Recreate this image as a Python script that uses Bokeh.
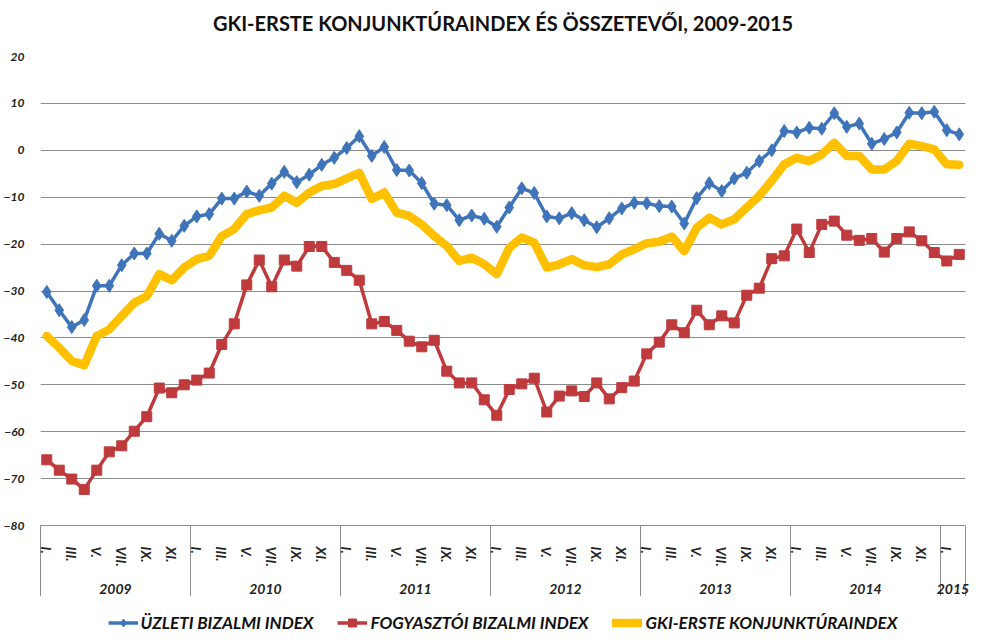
from bokeh.plotting import figure
from bokeh.layouts import column
from bokeh.models import Range1d, FixedTicker, LinearAxis, Legend, LegendItem, ColumnDataSource
from bokeh.core.properties import value
from bokeh.embed import file_html
from bokeh.resources import INLINE

years = ["2009", "2010", "2011", "2012", "2013", "2014", "2015"]
months_per_year = [12, 12, 12, 12, 12, 12, 2]
month_labels = ["I.", "II.", "III.", "IV.", "V.", "VI.", "VII.", "VIII.", "IX.", "X.", "XI.", "XII."]

uzleti = [-30.2, -34.1, -37.7, -36.2, -28.9, -28.9, -24.5, -22.0, -22.0, -17.8, -19.3, -16.1,
          -14.1, -13.6, -10.3, -10.3, -8.8, -9.7, -7.1, -4.6, -6.8, -5.2, -3.1, -1.6,
          0.5, 3.0, -1.2, 0.7, -4.2, -4.3, -7.0, -11.4, -11.7, -14.9, -13.9, -14.6,
          -16.3, -12.2, -8.1, -9.1, -14.1, -14.5, -13.4, -14.9, -16.4, -14.5, -12.4, -11.2,
          -11.3, -11.9, -12.0, -15.6, -10.2, -7.0, -8.7, -6.0, -4.8, -2.3, 0.0, 4.1,
          3.8, 4.8, 4.6, 7.9, 5.0, 5.7, 1.4, 2.4, 3.8, 8.0, 7.9, 8.2,
          4.3, 3.4]
fogyasztoi = [-66.0, -68.2, -70.1, -72.3, -68.2, -64.3, -63.0, -59.9, -56.8, -50.7, -51.7, -50.0,
              -49.0, -47.5, -41.4, -37.0, -28.7, -23.4, -29.1, -23.4, -24.7, -20.5, -20.5, -23.9,
              -25.6, -27.7, -37.0, -36.5, -38.4, -40.7, -41.9, -40.5, -47.1, -49.6, -49.6, -53.2,
              -56.5, -51.0, -49.8, -48.6, -55.8, -52.4, -51.3, -52.5, -49.6, -53.0, -50.6, -49.2,
              -43.4, -40.9, -37.2, -38.9, -34.1, -37.2, -35.3, -36.8, -30.9, -29.4, -23.1, -22.5,
              -16.8, -21.8, -15.8, -15.1, -18.1, -19.2, -18.8, -21.7, -18.8, -17.4, -19.3, -21.8,
              -23.6, -22.2]
gki = [-39.6, -42.1, -44.9, -45.8, -39.6, -38.2, -35.3, -32.5, -31.1, -26.4, -27.7, -25.0,
       -23.2, -22.5, -18.3, -16.8, -13.6, -12.8, -12.2, -9.7, -11.2, -9.0, -7.6, -7.2,
       -6.0, -4.8, -10.4, -9.0, -13.3, -14.0, -15.8, -18.3, -20.4, -23.6, -22.9, -24.3,
       -26.4, -20.8, -18.6, -19.7, -25.0, -24.3, -23.2, -24.5, -24.9, -24.3, -22.2, -21.1,
       -19.8, -19.5, -18.4, -21.5, -16.5, -14.4, -15.8, -14.7, -12.2, -9.7, -6.5, -3.0,
       -1.6, -2.3, -0.9, 1.6, -1.2, -1.2, -4.1, -4.1, -2.3, 1.4, 0.9, 0.2,
       -3.0, -3.1]
y_ticks = [-80, -70, -60, -50, -40, -30, -20, -10, 0, 10, 20]

series_names = ["ÜZLETI BIZALMI INDEX", "FOGYASZTÓI BIZALMI INDEX", "GKI-ERSTE KONJUNKTÚRAINDEX"]
title_text = "GKI-ERSTE KONJUNKTÚRAINDEX ÉS ÖSSZETEVŐI, 2009-2015"

# derived positions
n = len(uzleti)
xs = list(range(n))
month_ticks, month_over, year_centers, year_over, seps = [], {}, [], {}, [-0.5]
pos = 0
for y, cnt in zip(years, months_per_year):
    for m in range(cnt):
        if m % 2 == 0:
            month_ticks.append(pos + m)
            month_over[pos + m] = month_labels[m]
    c = pos + (cnt - 1) / 2
    year_centers.append(c)
    year_over[c] = y
    pos += cnt
    seps.append(pos - 0.5)

src = ColumnDataSource(dict(x=xs, u=uzleti, f=fogyasztoi, g=gki))

FONT = "Lato"
GRID = "#8c8c8c"
BLUE = "#3f74ba"
RED = "#bf3a3c"
YEL = "#ffc000"
W = 972


def bare_fig(h):
    f = figure(width=W, height=h, output_backend="svg", toolbar_location=None,
               x_range=Range1d(0, W), y_range=Range1d(0, h), min_border=0,
               x_axis_location=None, y_axis_location=None)
    f.outline_line_color = None
    f.xgrid.visible = False
    f.ygrid.visible = False
    return f


# ---- title strip ----
TH = 46
tf = bare_fig(TH)
tf.text(x=[486], y=[TH - 22], text=[title_text], text_align="center", text_baseline="middle",
        text_font=value(FONT), text_font_size="20px", text_font_style="bold", text_color="#111111")

# ---- main chart ----
p = figure(width=W, frame_height=469, output_backend="svg", toolbar_location=None,
           x_range=Range1d(-0.5, n - 0.5), y_range=Range1d(-80, 20),
           min_border_left=32, min_border_right=7, min_border_top=10, min_border_bottom=0,
           x_axis_location=None)
p.outline_line_color = None

p.yaxis.ticker = FixedTicker(ticks=y_ticks)
p.yaxis.axis_line_color = None
p.yaxis.major_tick_line_color = None
p.yaxis.minor_tick_line_color = None
p.yaxis.major_label_text_font = FONT
p.yaxis.major_label_text_font_style = "bold italic"
p.yaxis.major_label_text_font_size = "12px"
p.yaxis.major_label_text_color = "#222222"
p.yaxis.major_label_standoff = 10
p.ygrid.ticker = FixedTicker(ticks=y_ticks)
p.ygrid.grid_line_color = GRID
p.ygrid.grid_line_width = 1
p.xgrid.visible = False

# month axis (minor ticks act as year separators)
max_ax = LinearAxis(ticker=FixedTicker(ticks=month_ticks, minor_ticks=seps))
max_ax.major_label_overrides = month_over
max_ax.major_label_orientation = "vertical"
max_ax.axis_line_color = GRID
max_ax.major_tick_line_color = None
max_ax.major_tick_out = 0
max_ax.major_tick_in = 0
max_ax.minor_tick_line_color = GRID
max_ax.minor_tick_out = 76
max_ax.minor_tick_in = 0
max_ax.major_label_standoff = -55
max_ax.major_label_text_font = FONT
max_ax.major_label_text_font_style = "bold italic"
max_ax.major_label_text_font_size = "14px"
max_ax.major_label_text_color = "#222222"
p.add_layout(max_ax, "below")

# year axis
yr_ax = LinearAxis(ticker=FixedTicker(ticks=year_centers))
yr_ax.major_label_overrides = year_over
yr_ax.axis_line_color = None
yr_ax.major_tick_line_color = None
yr_ax.minor_tick_line_color = None
yr_ax.major_tick_out = 0
yr_ax.major_tick_in = 0
yr_ax.major_label_standoff = 14
yr_ax.major_label_text_font = FONT
yr_ax.major_label_text_font_style = "bold italic"
yr_ax.major_label_text_font_size = "14px"
yr_ax.major_label_text_color = "#222222"
p.add_layout(yr_ax, "below")

line_styles = [dict(line_color=BLUE, line_width=3.5, line_join="round"),
               dict(line_color=RED, line_width=3.5, line_join="round"),
               dict(line_color=YEL, line_width=8.5, line_join="round", line_cap="round")]
marker_styles = [dict(marker="diamond", size=13, fill_color=BLUE, line_color=BLUE),
                 dict(marker="square", size=10, fill_color=RED, line_color=RED),
                 None]

for col, ls, ms in zip(["u", "f", "g"], line_styles, marker_styles):
    p.line("x", col, source=src, **ls)
    if ms:
        p.scatter("x", col, source=src, **ms)

# ---- legend strip (proxy renderers sit outside the visible range) ----
LH = 52
lf = bare_fig(LH)
items = []
proxy = ColumnDataSource(dict(x=[-1000, -999], y=[-1000, -1000]))
for name, ls, ms in zip(series_names, line_styles, marker_styles):
    rs = [lf.line("x", "y", source=proxy, **ls)]
    if ms:
        rs.append(lf.scatter("x", "y", source=proxy, **ms))
    items.append(LegendItem(label=name, renderers=rs, index=0))
legend = Legend(items=items, orientation="horizontal", location="center")
legend.label_text_font = FONT
legend.label_text_font_style = "bold italic"
legend.label_text_font_size = "17px"
legend.label_text_color = "#111111"
legend.glyph_width = 30
legend.label_standoff = 3
legend.spacing = 24
legend.border_line_color = None
legend.background_fill_alpha = 0
legend.margin = 0
legend.padding = 4
lf.add_layout(legend, "center")

layout = column(tf, p, lf, spacing=0)
open("out.html", "w").write(file_html(layout, INLINE))
